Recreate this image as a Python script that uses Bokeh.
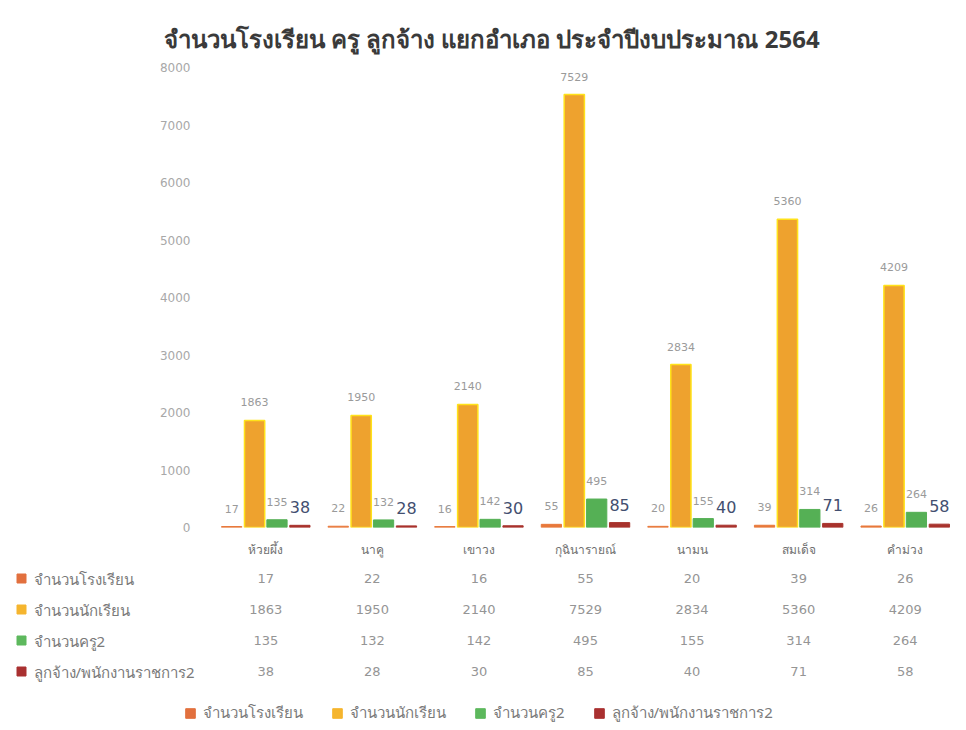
from bokeh.plotting import figure
from bokeh.models import (ColumnDataSource, FactorRange, Range1d, FixedTicker,
                          Legend, LegendItem)
from bokeh.transform import dodge
from bokeh.layouts import column
from bokeh.embed import file_html
from bokeh.resources import INLINE
from bokeh.core.properties import value

# ---------------- data ----------------
title_text = "จำนวนโรงเรียน ครู ลูกจ้าง แยกอำเภอ ประจำปีงบประมาณ 2564"
districts = ["ห้วยผึ้ง", "นาคู", "เขาวง", "กุฉินารายณ์", "นามน", "สมเด็จ", "คำม่วง"]
series_names = ["จำนวนโรงเรียน", "จำนวนนักเรียน", "จำนวนครู2", "ลูกจ้าง/พนักงานราชการ2"]
schools = [17, 22, 16, 55, 20, 39, 26]
students = [1863, 1950, 2140, 7529, 2834, 5360, 4209]
teachers = [135, 132, 142, 495, 155, 314, 264]
staff = [38, 28, 30, 85, 40, 71, 58]
y_ticks = [0, 1000, 2000, 3000, 4000, 5000, 6000, 7000, 8000]

# ---------------- styles ----------------
FONT = "Noto Sans"
NUMFONT = "DejaVu Sans"
W = 958
LEFT = 212          # frame left in canvas px
TOP = 67
H1 = 563
H2 = 159
bar_fill = ["#E8783A", "#EEA22E", "#55B055", "#A8322C"]
bar_line = ["#E8783A", "#FFE21A", "#55B055", "#A8322C"]
key_colors = ["#E2703E", "#F5B52E", "#5DB85D", "#A93030"]
offsets = [-0.32, -0.105, 0.105, 0.32]
bw = 0.19

series = [schools, students, teachers, staff]
keys = ["schools", "students", "teachers", "staff"]

data = dict(district=districts)
for k, s in zip(keys, series):
    data[k] = s
    data[k + "_lbl"] = [str(v) for v in s]
src = ColumnDataSource(data)

# ---------------- chart ----------------
p1 = figure(x_range=FactorRange(*districts), y_range=Range1d(0, 8000),
            width=W, height=H1, output_backend="svg", toolbar_location=None,
            min_border_left=LEFT, min_border_right=0, min_border_top=TOP,
            min_border_bottom=H1 - TOP - 460, title=title_text)
p1.frame_align = False
p1.title.text_font = FONT
p1.title.text_font_size = "24px"
p1.title.text_font_style = "bold"
p1.title.text_color = "#3a3a3a"
p1.title.align = "left"
p1.title.offset = -49
p1.title.standoff = 26

p1.outline_line_color = None
p1.xgrid.grid_line_color = None
p1.ygrid.grid_line_color = None
p1.yaxis.ticker = FixedTicker(ticks=y_ticks)
for ax in (p1.xaxis, p1.yaxis):
    ax.axis_line_color = None
    ax.major_tick_line_color = None
    ax.minor_tick_line_color = None
p1.yaxis.major_label_text_font = NUMFONT
p1.yaxis.major_label_text_font_size = "12px"
p1.yaxis.major_label_text_color = "#a8a8a8"
p1.yaxis.major_label_standoff = 16
p1.xaxis.major_label_text_font = FONT
p1.xaxis.major_label_text_font_size = "12px"
p1.xaxis.major_label_text_color = "#707070"
p1.xaxis.major_label_standoff = 7

for i, k in enumerate(keys):
    p1.vbar(x=dodge("district", offsets[i], range=p1.x_range), top=k, width=bw,
            source=src, fill_color=bar_fill[i], line_color=bar_line[i],
            line_width=1.5 if i == 1 else 1)

for i, k in enumerate(keys):
    big = (i == 3)
    p1.text(x=dodge("district", offsets[i], range=p1.x_range), y=k, text=k + "_lbl",
            source=src, text_align="center", text_baseline="middle",
            y_offset=-18,
            text_font=value(NUMFONT),
            text_font_size="16px" if big else "11px",
            text_color="#434f70" if big else "#9a9a9a")

# ---------------- data table + legend ----------------
n = len(districts)
pitch = (W - LEFT) / n          # px per category, same as the chart
x0 = -LEFT / pitch              # left canvas edge in category units
row_pitch = 31.0
y1 = 3.5 + 15 / row_pitch
y0 = y1 - H2 / row_pitch

p2 = figure(x_range=Range1d(x0, n), y_range=Range1d(y0, y1), width=W, height=H2,
            output_backend="svg", toolbar_location=None, min_border=0,
            x_axis_type=None, y_axis_type=None)
p2.frame_align = False
p2.outline_line_color = None
p2.xgrid.grid_line_color = None
p2.ygrid.grid_line_color = None

cx, cy, ct = [], [], []
for r, s in enumerate(series):
    for c, v in enumerate(s):
        cx.append(c + 0.5)
        cy.append(3.5 - r)
        ct.append(str(v))
p2.text(x=cx, y=cy, text=ct, text_align="center", text_baseline="middle",
        text_font=value(NUMFONT), text_font_size="13px", text_color="#959595")

row_y = [3.5 - r for r in range(len(series_names))]
p2.text(x=[x0 + 33 / pitch] * len(series_names), y=row_y, text=series_names,
        text_align="left", text_baseline="middle", text_font=value(FONT),
        text_font_size="15px", text_color="#7a7a7a")
key_src = ColumnDataSource(dict(x=[x0 + 21 / pitch] * len(series_names), y=row_y,
                                c=key_colors))
kr = p2.scatter(x="x", y="y", source=key_src, marker="square", size=9,
                fill_color="c", line_color="c")

legend = Legend(items=[LegendItem(label=nm, renderers=[kr], index=i)
                       for i, nm in enumerate(series_names)],
                orientation="horizontal", location=(178, -3))
legend.label_text_font = FONT
legend.label_text_font_size = "15px"
legend.label_text_color = "#7a7a7a"
legend.glyph_width = 24
legend.glyph_height = 24
legend.label_height = 10
legend.label_standoff = 1
legend.spacing = 22
legend.padding = 0
legend.margin = 0
legend.border_line_color = None
legend.background_fill_alpha = 0
p2.add_layout(legend)

layout = column(p1, p2, spacing=0)
open("out.html", "w").write(file_html(layout, INLINE))
